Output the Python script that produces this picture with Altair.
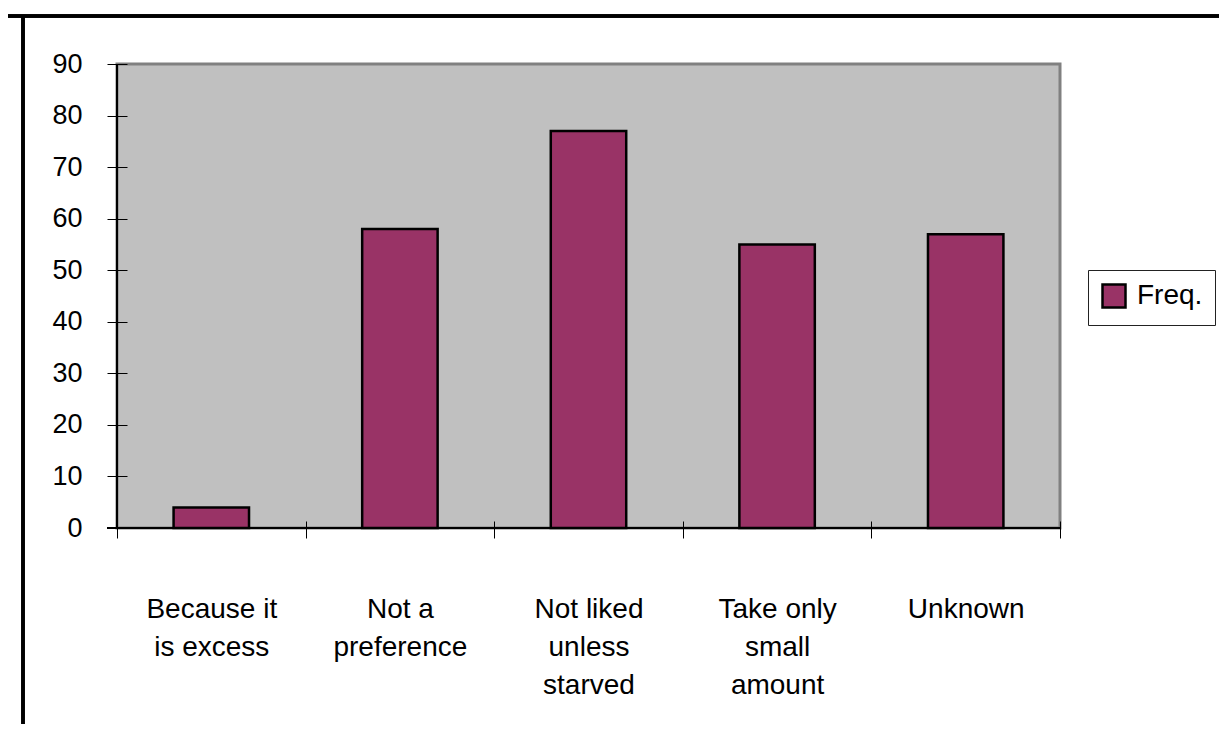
import altair as alt
import pandas as pd

# Category labels, one list of lines per category
label_lines = [
    ["Because it", "is excess"],
    ["Not a", "preference"],
    ["Not liked", "unless", "starved"],
    ["Take only", "small", "amount"],
    ["Unknown"],
]
categories = ["\n".join(lines) for lines in label_lines]
freq = [4, 58, 77, 55, 57]
series = "Freq."
y_ticks = [0, 10, 20, 30, 40, 50, 60, 70, 80, 90]

df = pd.DataFrame({"reason": categories, "value": freq, "series": [series] * len(freq)})

FONT = "Liberation Sans"
W, H = 943, 464

x_enc = alt.X(
    "reason:N",
    sort=categories,
    scale=alt.Scale(paddingInner=0, paddingOuter=0),
    axis=alt.Axis(
        title=None,
        domain=False,
        offset=-7,
        tickSize=17,
        tickBand="extent",
        tickColor="black",
        tickWidth=1,
        labelAngle=0,
        labelFont=FONT,
        labelFontSize=28,
        labelColor="black",
        labelPadding=57,
        labelLineHeight=38,
        labelExpr="split(datum.label, '\\n')",
        labelLimit=300,
    ),
)

bars = alt.Chart(df).mark_bar(
    stroke="black", strokeWidth=2.5, width=alt.RelativeBandSize(0.4)
).encode(
    x=x_enc,
    y=alt.Y(
        "value:Q",
        scale=alt.Scale(domain=[0, 90], nice=False),
        axis=alt.Axis(
            title=None,
            values=y_ticks,
            domain=False,
            grid=False,
            offset=-10,
            tickSize=20,
            tickColor="black",
            tickWidth=1,
            labelFont=FONT,
            labelFontSize=27,
            labelColor="black",
            labelPadding=25,
        ),
    ),
    color=alt.Color(
        "series:N",
        scale=alt.Scale(range=["#993366"]),
        legend=alt.Legend(
            title=None,
            orient="none",
            legendX=971,
            legendY=206,
            padding=12,
            strokeColor="#222222",
            fillColor="white",
            symbolType="square",
            symbolSize=529,
            symbolStrokeColor="black",
            symbolStrokeWidth=2.5,
            symbolOpacity=1,
            labelFont=FONT,
            labelFontSize=28,
            labelColor="black",
            labelOffset=9,
        ),
    ),
)

# Axis lines along the left and bottom edges of the plot area
y_line = alt.Chart(df).mark_rule(color="black", strokeWidth=1.5).encode(
    x=alt.value(0), y=alt.value(0), y2=alt.value(H)
)
x_line = alt.Chart(df).mark_rule(color="black", strokeWidth=1.5).encode(
    x=alt.value(-10), x2=alt.value(W), y=alt.value(H)
)

# Page frame: a rule across the top and one down the left side
frame_top = alt.Chart(df).mark_rule(color="black", strokeWidth=3).encode(
    x=alt.value(-109), x2=alt.value(1102), y=alt.value(-48)
)
frame_left = alt.Chart(df).mark_rule(color="black", strokeWidth=3).encode(
    x=alt.value(-94), y=alt.value(-49), y2=alt.value(670)
)

chart = (
    alt.layer(bars, y_line, x_line, frame_top, frame_left)
    .properties(
        width=W,
        height=H,
        padding={"left": 117, "top": 64, "right": 159, "bottom": 196},
        autosize=alt.AutoSizeParams(type="none"),
        background="white",
    )
    .configure_view(fill="#C0C0C0", stroke="#808080", strokeWidth=3)
)

chart.save("out.html", embed_options={"renderer": "svg", "actions": False})
